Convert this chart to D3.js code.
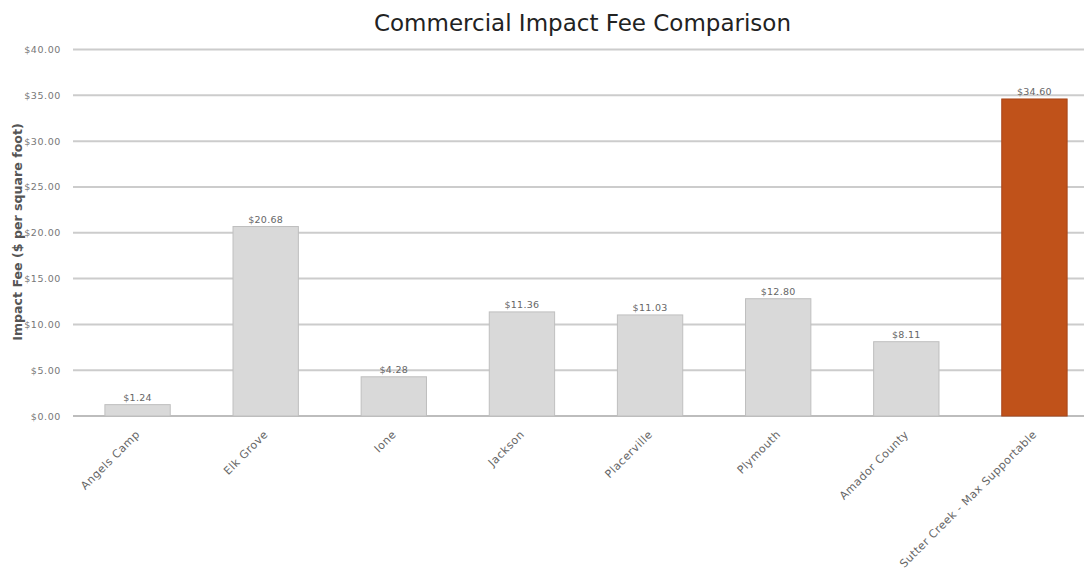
<!DOCTYPE html>
<html><head><meta charset="utf-8">
<script src="https://cdn.jsdelivr.net/npm/d3@7"></script>
<style>body{margin:0;background:#fff}svg{display:block}</style>
</head><body>
<svg id="chart" width="1084" height="575"></svg>
<script>
const categories = ["Angels Camp","Elk Grove","Ione","Jackson","Placerville","Plymouth","Amador County","Sutter Creek - Max Supportable"];
const fees = [1.24, 20.68, 4.28, 11.36, 11.03, 12.80, 8.11, 34.60];
const feeLabels = ["$1.24","$20.68","$4.28","$11.36","$11.03","$12.80","$8.11","$34.60"];
const yTicks = [0,5,10,15,20,25,30,35,40];
const highlight = "Sutter Creek - Max Supportable";

const W = 1084, H = 575;
const FONT = "'DejaVu Sans', Verdana, sans-serif";
const svg = d3.select("#chart");
const x = d3.scaleBand().domain(categories).range([73.5, 1098.5]).paddingInner(0.49).paddingOuter(0.245);
const y = d3.scaleLinear().domain([0,40]).range([416, 49.5]);

// gridlines
svg.append("g").selectAll("line").data(yTicks).join("line")
  .attr("x1", 73).attr("x2", W)
  .attr("y1", d => y(d)).attr("y2", d => y(d))
  .attr("stroke", d => d === 0 ? "#bdbdbd" : "#cccccc").attr("stroke-width", 2);

// y axis labels
const yAxis = d3.axisLeft(y).tickValues(yTicks).tickSize(0).tickPadding(6).tickFormat(d => "$" + d3.format(".2f")(d));
const ya = svg.append("g").attr("transform", "translate(67,0)").call(yAxis);
ya.select(".domain").remove();
ya.selectAll("text").attr("font-family", FONT).attr("font-size", 9.5).attr("letter-spacing", 0.6).attr("fill","#777");

// bars
svg.append("g").selectAll("rect").data(categories).join("rect")
  .attr("x", d => x(d)).attr("width", x.bandwidth())
  .attr("y", (d,i) => y(fees[i])).attr("height", (d,i) => y(0) - y(fees[i]))
  .attr("fill", d => d === highlight ? "#c0521a" : "#d9d9d9")
  .attr("stroke", d => d === highlight ? "#a8461a" : "#bfbfbf").attr("stroke-width", 1);

// value labels
svg.append("g").selectAll("text").data(categories).join("text")
  .attr("x", d => x(d) + x.bandwidth()/2).attr("y", (d,i) => y(fees[i]) - 3.5)
  .attr("text-anchor","middle")
  .attr("font-family", FONT).attr("font-size", 9.5).attr("letter-spacing", 0.3).attr("fill","#666")
  .text((d,i) => feeLabels[i]);

// x axis labels
const xAxis = d3.axisBottom(x).tickSize(0).tickPadding(0);
const xa = svg.append("g").attr("transform", "translate(0,416)").call(xAxis);
xa.select(".domain").remove();
xa.selectAll("text")
  .attr("font-family", FONT).attr("font-size", 11).attr("letter-spacing", 0.5).attr("fill","#666")
  .attr("text-anchor","end").attr("dy", null).attr("y", null)
  .attr("transform", "translate(3,19) rotate(-45)");

// y title
svg.append("text").attr("transform","translate(22,232) rotate(-90)")
  .attr("text-anchor","middle")
  .attr("font-family", FONT).attr("font-size", 12.6).attr("font-weight","bold").attr("fill","#555")
  .text("Impact Fee ($ per square foot)");

// title
svg.append("text").attr("x", 582.5).attr("y", 31).attr("text-anchor","middle")
  .attr("font-family", FONT).attr("font-size", 23).attr("fill","#222")
  .text("Commercial Impact Fee Comparison");
</script>
</body></html>
